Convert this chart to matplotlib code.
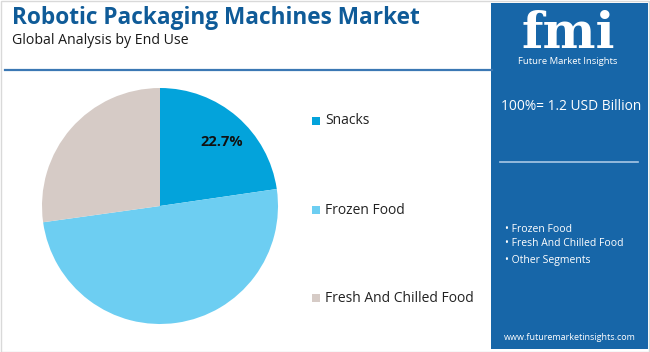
import matplotlib
matplotlib.use("Agg")
import matplotlib.pyplot as plt
from matplotlib.patches import Rectangle
import numpy as np

# ---- data ----
categories = ["Snacks", "Frozen Food", "Fresh And Chilled Food"]
shares = [22.7, 50.1, 27.2]
colors = ["#03a3db", "#6dcef2", "#d6cbc6"]
title = "Robotic Packaging Machines Market"
subtitle = "Global Analysis by End Use"
total_label = "100%= 1.2 USD Billion"
top_segments = ["Frozen Food", "Fresh And Chilled Food", "Other Segments"]
website = "www.futuremarketinsights.com"

W, H = 650, 352
fig = plt.figure(figsize=(W / 100, H / 100), dpi=100)
fig.patch.set_facecolor("white")

def fx(x):
    return x / W

def fy(y):
    return 1 - y / H

FONT = "Open Sans"
panel_color = "#1766a8"
title_color = "#0f5b98"

# outer border
fig.patches.append(Rectangle((0.5 / W, 0.5 / H), 1 - 1.5 / W, 1 - 1.5 / H,
                             transform=fig.transFigure, fill=False,
                             edgecolor="#d9d9d9", linewidth=1.0))

# title
fig.text(fx(12), fy(18), title, fontsize=16.3, fontweight="bold",
         color=title_color, family=FONT, va="center", ha="left")
fig.text(fx(12), fy(40), subtitle, fontsize=10.2, color="#1a1a1a",
         family=FONT, va="center", ha="left")

# separator line under title
fig.add_artist(plt.Line2D([fx(5), fx(492)], [fy(70), fy(70)],
                          transform=fig.transFigure, color="#3b78b4", lw=1.6))

# pie
cx, cy, r = 160, 206, 118
ax = fig.add_axes([fx(cx - r), fy(cy + r), 2 * r / W, 2 * r / H])
ax.pie(shares, colors=colors, startangle=90, counterclock=False,
       radius=1, wedgeprops=dict(linewidth=0))
ax.set_xlim(-1, 1)
ax.set_ylim(-1, 1)
ax.set_aspect("auto")
ax.axis("off")
ang = np.deg2rad(46)
ax.text(0.755 * np.cos(ang), 0.755 * np.sin(ang), f"{shares[0]}%",
        fontsize=10.5, fontweight="bold", color="#111111", family=FONT,
        ha="center", va="center")

# legend
leg_y = [121, 210, 298]
for cat, col, y in zip(categories, colors, leg_y):
    fig.patches.append(Rectangle((fx(312), fy(y + 4)), 8 / W, 8 / H,
                                 transform=fig.transFigure, color=col, lw=0))
    fig.text(fx(325), fy(y), cat, fontsize=10, color="#222222",
             family=FONT, va="center", ha="left")

# right panel
px0, px1, py0, py1 = 491, 648, 3, 349
fig.patches.append(Rectangle((fx(px0), fy(py1)), (px1 - px0) / W,
                             (py1 - py0) / H, transform=fig.transFigure,
                             color=panel_color, lw=0))

# logo
fig.text(fx(568), fy(34), "fmi", fontsize=36, fontweight="bold",
         color="white", family="DejaVu Serif", ha="center", va="center")
for yy in np.arange(16, 52, 3.0):
    fig.add_artist(plt.Line2D([fx(510), fx(630)], [fy(yy), fy(yy)],
                              transform=fig.transFigure, color=panel_color,
                              lw=0.6))
fig.text(fx(568), fy(62), "Future Market Insights", fontsize=6.8,
         color="white", family=FONT, ha="center", va="center")

fig.text(fx(571), fy(107), total_label, fontsize=9.9, color="white",
         family=FONT, ha="center", va="center")
fig.add_artist(plt.Line2D([fx(500), fx(638)], [fy(162), fy(162)],
                          transform=fig.transFigure, color="#a9c8e6", lw=1.2))

for seg, y in zip(top_segments, [229, 243, 260]):
    fig.text(fx(505), fy(y), "\u2022 " + seg, fontsize=7.5, color="white",
             family=FONT, ha="left", va="center")

fig.text(fx(570), fy(338), website, fontsize=6.5, color="white",
         family=FONT, ha="center", va="center")

fig.savefig("out.png", dpi=100, facecolor="white")
